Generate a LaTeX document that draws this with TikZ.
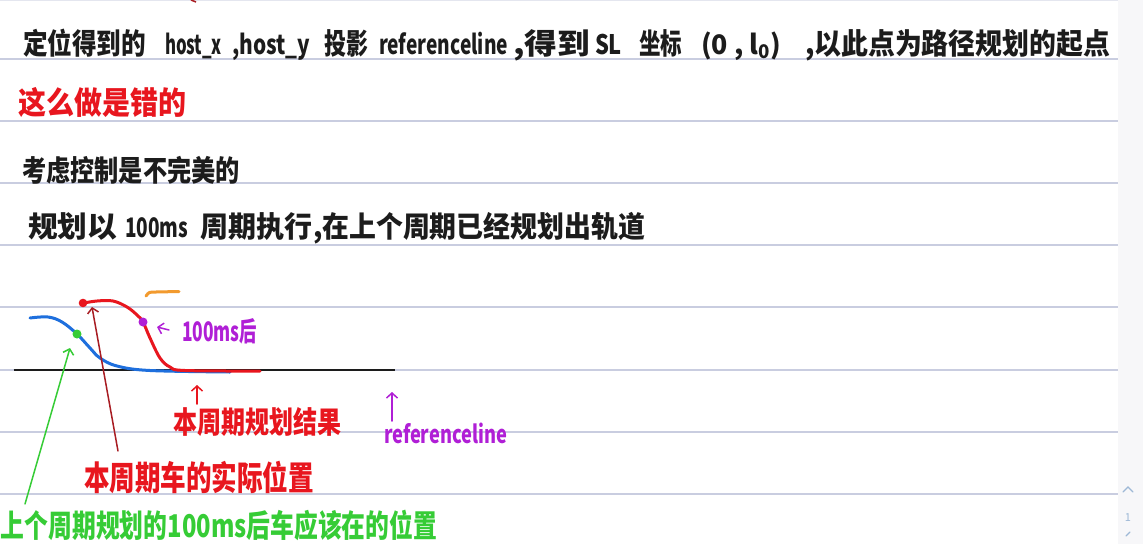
\documentclass[tikz,border=0pt]{standalone}
\usepackage{fontspec}
\setmainfont{Noto Sans CJK SC}
\usepackage{graphicx}
\usetikzlibrary{arrows.meta}
\definecolor{inkc}{HTML}{1C1C1C}
\definecolor{redc}{HTML}{E8161E}
\definecolor{darkredc}{HTML}{A81C22}
\definecolor{greenc}{HTML}{36CC36}
\definecolor{magc}{HTML}{B01FD6}
\definecolor{bluec}{HTML}{1E6FDD}
\definecolor{orangec}{HTML}{F29A2E}
\definecolor{rulec}{HTML}{C9CDE0}
\definecolor{stripc}{HTML}{F7F7F9}
\definecolor{widgetc}{HTML}{9DB8D6}
\newcommand\fitw[2]{\resizebox{#1pt}{1.12\height}{#2}}
\begin{document}
\begin{tikzpicture}[x=1pt,y=-1pt,
  txt/.style={anchor=base west, inner sep=0pt, outer sep=0pt},
  fs/.style={font=\fontsize{#1}{#1}\selectfont\bfseries},
  rulel/.style={draw=rulec, line width=1.4pt},
  pen/.style={line width=3pt, line cap=round, line join=round},
  thinpen/.style={line width=1.5pt, line cap=round, line join=round},
  barb/.style={-{Straight Barb[length=5pt,width=11pt,line width=1.5pt]}}]
\useasboundingbox (0,0) rectangle (1143,544);
\fill[white] (0,0) rectangle (1143,544);
\fill[stripc] (1118,0) rectangle (1143,544);
% ruled lines
\draw[draw=rulec!50, line width=1pt] (0,0.5) -- (1118,0.5);
\foreach \yy in {59,121,183,245,307,370,432,494}
  \draw[rulel] (0,\yy) -- (1118,\yy);
% tiny trace at top
\draw[darkredc, line width=1.5pt] (191,0) -- (196,2);
% page widget
\draw[widgetc, line width=1.2pt, line cap=round] (1123,492) -- (1128,487) -- (1133,492);
\node[inner sep=0pt, text=widgetc, font=\fontsize{11}{11}\selectfont] (pg) at (1128,518) {1};
\draw[widgetc, line width=1.2pt, line cap=round] (1126,536) -- (1130,532);

% ---- line 1
\node[txt, fs=26, text=inkc] (t1a) at (23,54) {\fitw{123}{定位得到的}};
\node[txt, fs=24, text=inkc] (t1b) at (165,54) {\fitw{57}{host\_x}};
\node[txt, fs=24, text=inkc] (t1c) at (232,54) {\fitw{78}{,host\_y}};
\node[txt, fs=26, text=inkc] (t1d) at (324,54) {\fitw{44}{投影}};
\node[txt, fs=24, text=inkc] (t1e) at (379,54) {\fitw{129}{referenceline}};
\node[txt, fs=26, text=inkc] (t1f) at (513,54) {\fitw{77}{,得到}};
\node[txt, fs=24, text=inkc] (t1g) at (595,54) {\fitw{27}{SL}};
\node[txt, fs=26, text=inkc] (t1h) at (639,54) {\fitw{43}{坐标}};
\node[txt, fs=24, text=inkc] (t1i) at (701,54) {\fitw{80}{(0 , l\textsubscript{0})}};
\node[txt, fs=26, text=inkc] (t1j) at (805,54) {\fitw{305}{,以此点为路径规划的起点}};
% ---- line 2
\node[txt, fs=28, text=redc] (t2) at (18,114) {\fitw{168}{这么做是错的}};
% ---- line 3
\node[txt, fs=26, text=inkc] (t3) at (22,181) {\fitw{218}{考虑控制是不完美的}};
% ---- line 4
\node[txt, fs=26, text=inkc] (t4a) at (28,237) {\fitw{89}{规划以}};
\node[txt, fs=24, text=inkc] (t4b) at (125,237) {\fitw{63}{100ms}};
\node[txt, fs=26, text=inkc] (t4c) at (200,237) {\fitw{112}{周期执行}};
\node[txt, fs=26, text=inkc] (t4d) at (313,237) {\fitw{332}{,在上个周期已经规划出轨道}};

% ---- diagram
\node[draw=none, inner sep=0pt] (base0) at (13,370) {};
\node[draw=none, inner sep=0pt] (base1) at (396,370) {};
\draw[inkc, line width=1.6pt] (base0) -- (base1);
% blue: last cycle plan
\draw[bluec, pen] plot[smooth, tension=0.6] coordinates
  {(30,318) (48,317) (62,322) (77,334) (90,348) (100,358) (117,366) (150,370.5) (230,372)};
% red: this cycle plan
\draw[redc, pen] plot[smooth, tension=0.6] coordinates
  {(84,303) (97,301) (113,301) (127,307) (137,315) (143,322) (150,338) (160,358) (170,367) (185,370.5) (260,371)};
% orange stroke
\draw[orangec, pen] (146,296) .. controls (149,292) .. (156,292) -- (179,291.5);
% dots
\fill[redc] (83,303) circle (4.3pt);
\node[circle, fill=greenc, inner sep=0pt, minimum size=9pt] (gdot) at (77,334) {};
\node[circle, fill=magc, inner sep=0pt, minimum size=9pt] (mdot) at (143,322) {};

% labels in diagram
\node[txt, fs=24, text=magc] (l100) at (182,341) {\fitw{75}{100ms后}};
\coordinate (maT) at (169,330);
\coordinate (maH) at (157,327);
\draw[magc, thinpen, barb] (maT) -- (maH);

\node[txt, fs=27, text=redc] (lres) at (173,433) {\fitw{168}{本周期规划结果}};
\coordinate (raT) at (197,404);
\coordinate (raH) at (197,385);
\draw[redc, thinpen, barb] (raT) -- (raH);

\node[txt, fs=22, text=magc] (lref) at (384,443) {\fitw{123}{referenceline}};
\coordinate (paT) at (392,421);
\coordinate (paH) at (392,392);
\draw[magc, thinpen, barb] (paT) -- (paH);

\node[txt, fs=30, text=redc] (lact) at (84,490) {\fitw{230}{本周期车的实际位置}};
\coordinate (daT) at (118,451);
\coordinate (daH) at (92,307);
\draw[darkredc, thinpen, barb] (daT) -- (daH);

\node[txt, fs=28, text=greenc] (lexp) at (1,537) {\fitw{436}{上个周期规划的100ms后车应该在的位置}};
\coordinate (gaT) at (25,504);
\coordinate (gaH) at (70,348);
\draw[greenc, thinpen, barb] (gaT) -- (gaH);
\end{tikzpicture}
\end{document}
